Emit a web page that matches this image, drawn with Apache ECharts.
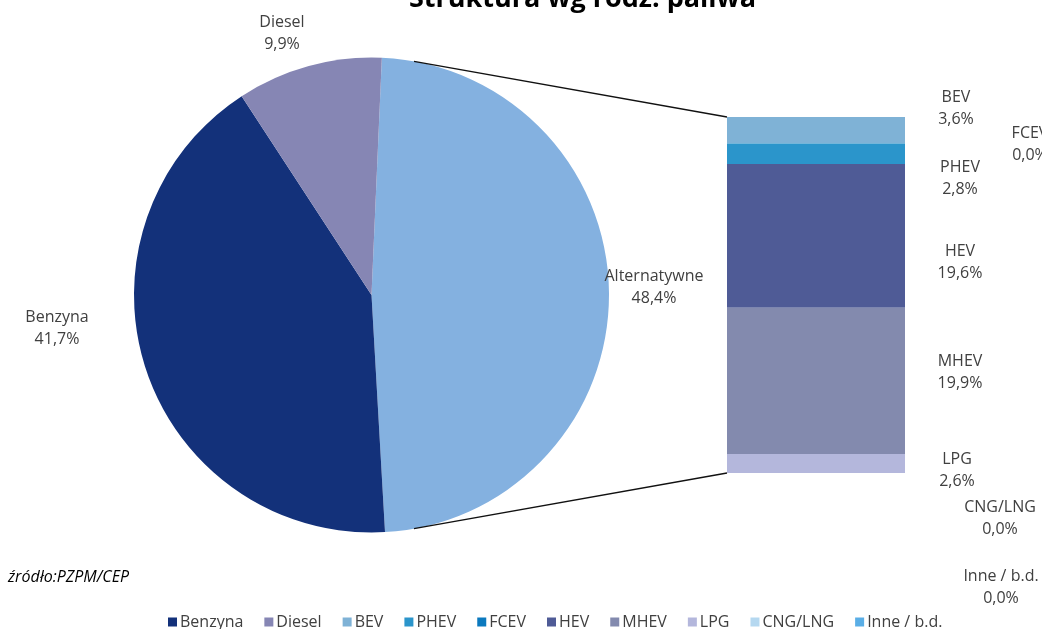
<!DOCTYPE html>
<html>
<head>
<meta charset="utf-8">
<script src="https://cdn.jsdelivr.net/npm/echarts@6/dist/echarts.min.js"></script>
<style>
html,body{margin:0;padding:0;background:#fff;}
#c{width:1042px;height:629px;}
</style>
</head>
<body>
<div id="c"></div>
<script>
// ---- data ----
const pieNames = ['Alternatywne', 'Benzyna', 'Diesel'];
const pieValues = [48.4, 41.7, 9.9];
const barNames = ['BEV', 'PHEV', 'FCEV', 'HEV', 'MHEV', 'LPG', 'CNG/LNG', 'Inne / b.d.'];
const barValues = [3.6, 2.8, 0.0, 19.6, 19.9, 2.6, 0.0, 0.0];
const legendNames = ['Benzyna', 'Diesel', 'BEV', 'PHEV', 'FCEV', 'HEV', 'MHEV', 'LPG', 'CNG/LNG', 'Inne / b.d.'];
const titleText = 'Struktura wg rodz. paliwa';
const sourceText = 'źródło:PZPM/CEP';

// ---- styles / layout ----
const pieColors = ['#84b1e0', '#13317a', '#8686b4'];
const barColors = ['#7fb2d6', '#2b95cb', '#0b79be', '#4f5b96', '#838aae', '#b4b7dc', '#b5d8f0', '#5aaee6'];
const pieLabelAt = [[654, 287], [57, 328], [282, 33]];
const barLabelMap = {
  'BEV': [956, 108], 'FCEV': [1030, 144], 'PHEV': [960, 178], 'HEV': [960, 262],
  'MHEV': [960, 372], 'LPG': [957, 470], 'CNG/LNG': [1000, 518], 'Inne / b.d.': [1001, 587]
};
const PIE_C = [371.5, 295], PIE_R = 237.5;
const GRID = {left: 727, top: 117, width: 178, height: 356};
const FONT = 'Open Sans';
const TXT = '#404040';

const fmt = v => v.toFixed(1).replace('.', ',') + '%';
const total = barValues.reduce((a, b) => a + b, 0);

const chart = echarts.init(document.getElementById('c'), null, {renderer: 'canvas'});

const series = [{
  type: 'pie',
  center: PIE_C,
  radius: PIE_R,
  startAngle: 87.5,
  clockwise: true,
  silent: true,
  data: pieNames.map((n, i) => ({name: n, value: pieValues[i], itemStyle: {color: pieColors[i]}})),
  label: {
    show: true, position: 'outside', color: TXT, fontFamily: FONT, fontSize: 16, lineHeight: 22,
    align: 'center',
    formatter: p => p.name + '\n' + fmt(p.value)
  },
  labelLine: {show: false},
  labelLayout: p => ({x: pieLabelAt[p.dataIndex][0], y: pieLabelAt[p.dataIndex][1], align: 'center', verticalAlign: 'middle'})
}];

barNames.forEach((n, i) => {
  const at = barLabelMap[n];
  series.push({
    type: 'bar', name: n, stack: 'alt', barWidth: '100%',
    data: [barValues[i]],
    itemStyle: {color: barColors[i]},
    silent: true,
    label: {
      show: true, position: 'right', color: TXT, fontFamily: FONT, fontSize: 16, lineHeight: 22,
      align: 'center',
      formatter: p => p.seriesName + '\n' + fmt(p.value)
    },
    labelLayout: {x: at[0], y: at[1], align: 'center', verticalAlign: 'middle'}
  });
});

chart.setOption({
  animation: false,
  title: {
    text: titleText, left: 404, top: -19,
    textStyle: {fontFamily: FONT, fontWeight: 'bold', fontSize: 27, color: '#000'}
  },
  legend: {
    data: legendNames, left: 163, top: 609, icon: 'rect', itemWidth: 9, itemHeight: 9, itemGap: 21,
    selectedMode: false,
    textStyle: {fontFamily: FONT, fontSize: 16, color: TXT, padding: [0, 0, 0, -2]}
  },
  color: [].concat(['#13317a', '#8686b4'], barColors),
  grid: {left: GRID.left, top: GRID.top, width: GRID.width, height: GRID.height},
  xAxis: {type: 'category', data: ['Alternatywne'], show: false},
  yAxis: {type: 'value', min: 0, max: total, inverse: true, show: false},
  series: series
});

// connector lines and source note
const th = 10.3 * Math.PI / 180;
const px = PIE_C[0] + PIE_R * Math.sin(th);
const pyTop = PIE_C[1] - PIE_R * Math.cos(th);
const pyBot = PIE_C[1] + PIE_R * Math.cos(th);
const yTop = chart.convertToPixel({yAxisIndex: 0}, 0);
const yBot = chart.convertToPixel({yAxisIndex: 0}, total);
const xc = chart.convertToPixel({xAxisIndex: 0}, 'Alternatywne');
const xLeft = xc - GRID.width / 2;
chart.setOption({
  graphic: [
    {type: 'line', shape: {x1: px, y1: pyTop, x2: xLeft, y2: yTop}, style: {stroke: '#111', lineWidth: 1.3}, z: 10},
    {type: 'line', shape: {x1: px, y1: pyBot, x2: xLeft, y2: yBot}, style: {stroke: '#111', lineWidth: 1.3}, z: 10},
    {type: 'text', left: 8, top: 569, style: {text: sourceText, fontFamily: FONT, fontStyle: 'italic', fontSize: 16, fill: '#000'}}
  ]
});
</script>
</body>
</html>
